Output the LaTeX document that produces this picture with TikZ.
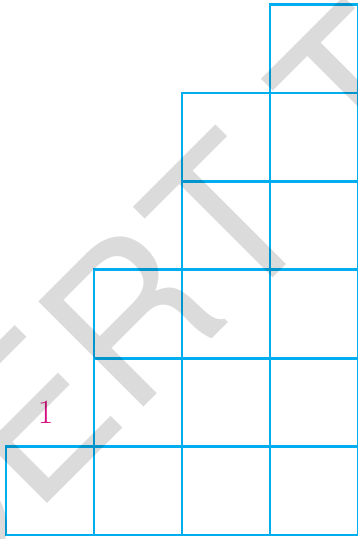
\documentclass[tikz,border=0pt]{standalone}
\usepackage{fontspec}
\newfontfamily\wmfont{TeX Gyre Heros}
\definecolor{gridblue}{RGB}{0,174,239}
\definecolor{labelmag}{RGB}{214,16,128}
\begin{document}
\begin{tikzpicture}[x=1pt,y=-1pt,
  sq/.style={draw=gridblue,line width=2.8pt},
  wm/.style={font=\wmfont\fontsize{204}{204}\selectfont,text=black,text opacity=0.14,inner sep=0pt,rotate=45},
  numlab/.style={text=labelmag,font=\fontsize{34}{34}\selectfont,inner sep=0pt}]
\useasboundingbox (0,0) rectangle (358,539);
\begin{scope}
\clip (0,0) rectangle (358,539);
\foreach \c/\n in {0/1,1/3,2/5,3/6}{
  \foreach \r in {1,...,\n}{
    \draw[sq] ({6+88*\c},{534.9-88.4*\r}) rectangle ++(88,88.4);
  }
}
\node[numlab] (one) at (45.8,412) {1};
\coordinate (torig) at (235,316);
\node[wm,anchor=base east] (wmA) at (torig) {CER};
\node[wm,anchor=base west] (wmB) at (torig) {T T};
\end{scope}
\end{tikzpicture}
\end{document}
